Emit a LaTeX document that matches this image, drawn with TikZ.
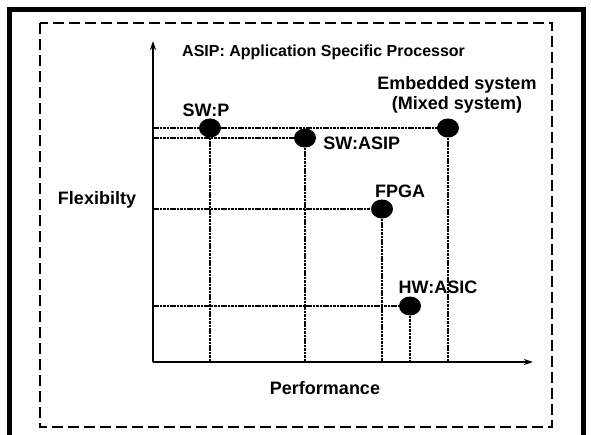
\documentclass[tikz,border=0pt]{standalone}
\usepackage{fontspec}
\setmainfont{Liberation Sans}
\usetikzlibrary{positioning,arrows.meta,shapes.geometric}
\tikzset{
  dot/.style={ellipse, fill=black, inner sep=0pt, minimum width=22pt, minimum height=19pt},
  lbl/.style={font=\fontsize{18}{20}\selectfont\bfseries, inner sep=1pt, align=center},
  dotline/.style={line width=1.8pt, dash pattern=on 2.5pt off 0.9pt},
}
\begin{document}
\begin{tikzpicture}[x=1pt, y=-1pt, >={Stealth[length=9pt,width=6pt]}]
	\useasboundingbox (0,0) rectangle (591,435);
	% frames
	\draw[line width=5pt] (9.5,436) -- (9.5,10) -- (583,10) -- (583,436);
	\draw[line width=2pt, dash pattern=on 11pt off 5pt] (40,23) rectangle (552,427);
	% axes
	\coordinate (o) at (153,362);
	\coordinate (ytop) at (153,41);
	\coordinate (xend) at (533,362);
	\draw[->, line width=2pt] (o) -- (ytop);
	\draw[->, line width=2pt] (o) -- (xend);
	% points
	\node[dot] (sp) at (210,128) {};
	\node[dot] (sa) at (305,138) {};
	\node[dot] (emb) at (448,128) {};
	\node[dot] (fpga) at (382,209) {};
	\node[dot] (asic) at (410,306) {};
	% dotted guides
	\draw[dotline] (o |- emb) -- (emb);
	\draw[dotline] (o |- sa) -- (sa);
	\draw[dotline] (o |- fpga) -- (fpga);
	\draw[dotline] (o |- asic) -- (asic);
	\foreach \p in {sp,sa,emb,fpga,asic}
		\draw[dotline] (\p) -- (\p |- o);
	% labels
	\node[lbl, above=0pt of sp, xshift=-4pt] (splbl) {SW:P};
	\node[lbl, right=6pt of sa, yshift=-5pt] (salbl) {SW:ASIP};
	\node[lbl, above=4pt of emb, xshift=9pt] (emblbl) {Embedded system\\(Mixed system)};
	\node[lbl, above=0pt of fpga, xshift=18pt] (fpgalbl) {FPGA};
	\node[lbl, above=1pt of asic, xshift=28pt] (asiclbl) {HW:ASIC};
	\node[lbl] (flex) at (97,200) {Flexibilty};
	\node[lbl] (perf) at (325,388) {Performance};
	\node[lbl, anchor=west, font=\fontsize{16}{18}\selectfont\bfseries] (title) at (181,52) {ASIP: Application Specific Processor};
\end{tikzpicture}
\end{document}
